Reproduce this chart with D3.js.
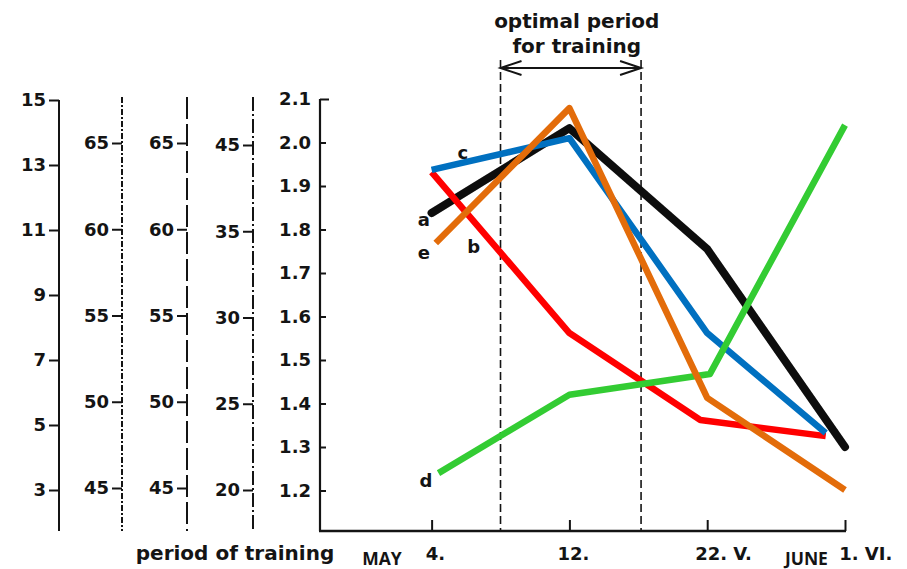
<!DOCTYPE html>
<html><head><meta charset="utf-8">
<script src="https://cdn.jsdelivr.net/npm/d3@7"></script>
<style>body{margin:0;background:#fff}svg{display:block}</style>
</head><body><svg id="c" width="907" height="569"></svg>
<script>
// ---- data ----
const categories = ["4.", "12.", "22. V.", "1. VI."];
const categoryIndex = [0, 1, 2, 3];
const optimalStart = 0.5, optimalEnd = 1.52;

const axis1Ticks = [15, 13, 11, 9, 7, 5, 3];
const axis2Ticks = [65, 60, 55, 50, 45];
const axis3Ticks = [65, 60, 55, 50, 45];
const axis4Ticks = ["45", "35", "30", "25", "20"];
const mainTicks = [2.1, 2.0, 1.9, 1.8, 1.7, 1.6, 1.5, 1.4, 1.3, 1.2];

const lineA_t = [0, 1, 2, 3];        const lineA_v = [1.838, 2.033, 1.755, 1.300]; // black
const lineB_t = [0, 1, 1.95, 2.86];  const lineB_v = [1.932, 1.562, 1.362, 1.325]; // red
const lineC_t = [0, 1, 2, 2.86];     const lineC_v = [1.937, 2.010, 1.562, 1.332]; // blue
const lineD_t = [0.05, 1, 2.02, 3];  const lineD_v = [1.240, 1.420, 1.468, 2.040]; // green
const lineE_t = [0.03, 1, 2, 3];     const lineE_v = [1.769, 2.079, 1.413, 1.201]; // orange

const seriesLabels = ["a", "b", "c", "d", "e"];
const labelT = [-0.057, 0.305, 0.226, -0.042, -0.057];
const labelV = [1.822, 1.760, 1.978, 1.224, 1.746];

// ---- drawing ----
const svg = d3.select("#c");
svg.append("rect").attr("width", 907).attr("height", 569).attr("fill", "#fff");
const FONT = "'DejaVu Sans', sans-serif";
const INK = "#141414";

const x = d3.scaleLinear().domain([-0.81, 3]).range([320, 845]);
const y = d3.scaleLinear().domain([1.2, 2.1]).range([490.5, 99]);
const y1 = d3.scaleLinear().domain([3, 15]).range([490, 100]);
const y2 = d3.scaleLinear().domain([45, 65]).range([488, 143]);
const y4 = d3.scalePoint().domain(axis4Ticks).range([145, 490]);
const bottomY = 531;

function styleAxis(g) {
  g.select(".domain").remove();
  g.selectAll(".tick line").attr("stroke", INK).attr("stroke-width", 2);
  g.selectAll(".tick text").attr("fill", INK).style("font-family", FONT)
    .style("font-weight", "bold").style("font-size", "18px");
}

function leftAxis(xPos, scale, ticks, dash, top) {
  svg.append("line").attr("x1", xPos).attr("x2", xPos).attr("y1", top).attr("y2", bottomY)
    .attr("stroke", INK).attr("stroke-width", 2).attr("stroke-dasharray", dash);
  const g = svg.append("g").attr("transform", `translate(${xPos},0)`)
    .call(d3.axisLeft(scale).tickValues(ticks).tickSize(10).tickPadding(3));
  styleAxis(g);
}

leftAxis(59, y1, axis1Ticks, null, 100);
leftAxis(122, y2, axis2Ticks, "6,2,2,2", 97);
leftAxis(187, y2, axis3Ticks, "22,5", 97);
leftAxis(253, y4, axis4Ticks, "14,3,2,3", 97);

// main axis
svg.append("line").attr("x1", 320).attr("x2", 320).attr("y1", y(2.1)).attr("y2", bottomY)
  .attr("stroke", INK).attr("stroke-width", 2.2);
const gm = svg.append("g").attr("transform", "translate(320,0)")
  .call(d3.axisLeft(y).tickValues(mainTicks).tickFormat(d3.format(".1f"))
    .tickSizeInner(-6).tickSizeOuter(0).tickPadding(9));
styleAxis(gm);
gm.selectAll(".tick line").filter(d => d === 2.1).attr("x2", 9);

// bottom axis
svg.append("line").attr("x1", 319).attr("x2", x(3) + 1).attr("y1", bottomY).attr("y2", bottomY)
  .attr("stroke", INK).attr("stroke-width", 2.5);
const gb = svg.append("g").attr("transform", `translate(0,${bottomY})`)
  .call(d3.axisBottom(x).tickValues(categoryIndex).tickFormat(i => categories[i])
    .tickSizeInner(-11).tickSizeOuter(0).tickPadding(16));
styleAxis(gb);
gb.selectAll(".tick text").attr("text-anchor", "start").each(function () {
  const t = this.textContent;
  const n = t.indexOf(".");
  const w = this.getSubStringLength(0, n);
  d3.select(this).attr("x", -w / 2);
});

// month labels
svg.append("text").attr("x", x(-0.36)).attr("y", 565).attr("text-anchor", "middle")
  .style("font-family", "'Open Sans', sans-serif").style("font-weight", "bold")
  .style("font-size", "17.5px").attr("fill", INK).text("MAY");
svg.append("text").attr("x", x(2.72)).attr("y", 565).attr("text-anchor", "middle")
  .style("font-family", "'Open Sans', sans-serif").style("font-weight", "bold")
  .style("font-size", "17.5px").attr("fill", INK).text("JUNE");

svg.append("text").attr("x", 235).attr("y", 560).attr("text-anchor", "middle")
  .style("font-family", FONT).style("font-weight", "bold").style("font-size", "20px")
  .attr("fill", INK).text("period of training");

// optimal period
[optimalStart, optimalEnd].forEach(t => {
  svg.append("line").attr("x1", x(t)).attr("x2", x(t)).attr("y1", 60).attr("y2", bottomY)
    .attr("stroke", INK).attr("stroke-width", 1.6).attr("stroke-dasharray", "8,4");
});
const xa = x(optimalStart), xb = x(optimalEnd), ay = 68;
svg.append("path")
  .attr("d", `M${xa},${ay}L${xb},${ay}M${xa + 21},${ay - 7}L${xa},${ay}L${xa + 21},${ay + 7}` +
             `M${xb - 21},${ay - 7}L${xb},${ay}L${xb - 21},${ay + 7}`)
  .attr("fill", "none").attr("stroke", INK).attr("stroke-width", 2);
const mid = (xa + xb) / 2 + 6;
svg.append("text").attr("x", mid).attr("y", 28).attr("text-anchor", "middle")
  .style("font-family", FONT).style("font-weight", "bold").style("font-size", "20px")
  .attr("fill", INK).text("optimal period");
svg.append("text").attr("x", mid).attr("y", 53).attr("text-anchor", "middle")
  .style("font-family", FONT).style("font-weight", "bold").style("font-size", "20px")
  .attr("fill", INK).text("for training");

// lines
const defs = svg.append("defs");
defs.append("filter").attr("id", "soft").append("feGaussianBlur").attr("stdDeviation", 0.7);

const line = d3.line().x(d => x(d[0])).y(d => y(d[1]));
const zip = (ts, vs) => ts.map((t, i) => [t, vs[i]]);
const series = [
  { t: lineA_t, v: lineA_v, color: "#0a0a0a", w: 8, cap: "round", filter: "url(#soft)" },
  { t: lineB_t, v: lineB_v, color: "#ff0000", w: 6.5, cap: "butt" },
  { t: lineC_t, v: lineC_v, color: "#0070c0", w: 6.5, cap: "butt" },
  { t: lineD_t, v: lineD_v, color: "#33cc33", w: 6.5, cap: "butt" },
  { t: lineE_t, v: lineE_v, color: "#e36c0a", w: 6.5, cap: "butt" }
];
series.forEach(s => {
  svg.append("path").datum(zip(s.t, s.v)).attr("d", line)
    .attr("fill", "none").attr("stroke", s.color).attr("stroke-width", s.w)
    .attr("stroke-linejoin", "round").attr("stroke-linecap", s.cap)
    .attr("filter", s.filter || null);
});

// series letters
seriesLabels.forEach((l, i) => {
  svg.append("text").attr("x", x(labelT[i])).attr("y", y(labelV[i]))
    .attr("text-anchor", "middle").attr("dominant-baseline", "central")
    .style("font-family", FONT).style("font-weight", "bold").style("font-size", "18px")
    .attr("fill", INK).text(l);
});
</script></body></html>
